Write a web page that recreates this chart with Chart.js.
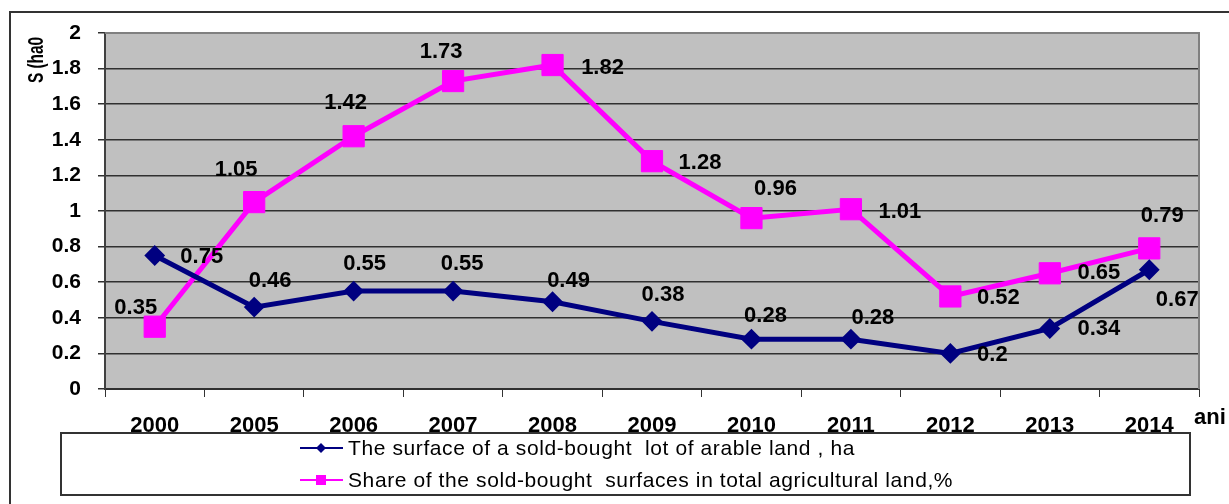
<!DOCTYPE html>
<html>
<head>
<meta charset="utf-8">
<title>Sold-bought land</title>
<script src="https://cdn.jsdelivr.net/npm/chart.js@4.4.0/dist/chart.umd.min.js"></script>
<style>
    html, body { margin: 0; padding: 0; background: #ffffff; }
    #wrap { width: 1229px; height: 504px; position: relative; }
</style>
</head>
<body>
<div id="wrap"><canvas id="landChart"></canvas></div>
<script>
// ---- data ----
const years = ["2000", "2005", "2006", "2007", "2008", "2009", "2010", "2011", "2012", "2013", "2014"];
const lotSurface = [0.75, 0.46, 0.55, 0.55, 0.49, 0.38, 0.28, 0.28, 0.2, 0.34, 0.67];
const soldShare = [0.35, 1.05, 1.42, 1.73, 1.82, 1.28, 0.96, 1.01, 0.52, 0.65, 0.79];
const yTicks = [0, 0.2, 0.4, 0.6, 0.8, 1, 1.2, 1.4, 1.6, 1.8, 2];

const lotName = "The surface of a sold-bought  lot of arable land , ha";
const shareName = "Share of the sold-bought  surfaces in total agricultural land,%";
const yTitle = "S (ha0";
const xTitle = "ani";

// where each value label sits, px from its point (hand placed in the original)
const lotLabelPos = [[47, 1], [16, -26], [11, -27], [9, -27], [16, -21], [11, -26], [14, -23], [22, -21], [42, 2], [49, 0], [28, 30]];
const shareLabelPos = [[-19, -19], [-18, -32], [-8, -33], [-12, -29], [50, 3], [48, 2], [24, -29], [49, 3], [48, 1], [49, 0], [13, -32]];

const NAVY = "#000080";
const MAGENTA = "#ff00ff";
const FONT = "'Liberation Sans', Arial, sans-serif";

// gray plot background
const plotBg = {
    id: "plotBg",
    beforeDraw(chart) {
        const { ctx, chartArea: a } = chart;
        ctx.save();
        ctx.fillStyle = "#c0c0c0";
        ctx.fillRect(a.left, a.top, a.right - a.left, a.bottom - a.top);
        ctx.restore();
    }
};

// value labels next to the points
const valueLabels = {
    id: "valueLabels",
    afterDatasetsDraw(chart) {
        const ctx = chart.ctx;
        const offsets = [lotLabelPos, shareLabelPos];
        ctx.save();
        ctx.font = "bold 22px " + FONT;
        ctx.fillStyle = "#000";
        ctx.textAlign = "center";
        ctx.textBaseline = "middle";
        chart.data.datasets.forEach((ds, di) => {
            const meta = chart.getDatasetMeta(di);
            meta.data.forEach((pt, i) => {
                const off = offsets[di][i];
                ctx.fillText(String(ds.data[i]), pt.x + off[0], pt.y + off[1]);
            });
        });
        ctx.restore();
    }
};

// frame, axis titles and the boxed legend
const extras = {
    id: "extras",
    afterDraw(chart) {
        const { ctx, chartArea: a } = chart;
        ctx.save();

        // outer chart frame (only top and left show)
        ctx.strokeStyle = "#333";
        ctx.lineWidth = 2;
        ctx.beginPath();
        ctx.moveTo(10, 504);
        ctx.lineTo(10, 12);
        ctx.lineTo(1229, 12);
        ctx.stroke();

        // plot area top/right edge
        ctx.strokeStyle = "#808080";
        ctx.lineWidth = 2;
        ctx.beginPath();
        ctx.moveTo(a.left, a.top);
        ctx.lineTo(a.right, a.top);
        ctx.lineTo(a.right, a.bottom);
        ctx.stroke();

        // axis titles
        ctx.fillStyle = "#000";
        ctx.font = "bold 22px " + FONT;
        ctx.textAlign = "center";
        ctx.textBaseline = "middle";
        ctx.save();
        ctx.translate(37, 60);
        ctx.rotate(-Math.PI / 2);
        ctx.scale(0.7, 1); // title is squeezed along its length in the original
        ctx.fillText(yTitle, 0, 0);
        ctx.restore();

        ctx.textAlign = "left";
        ctx.fillText(xTitle, 1194, 418);

        // legend box
        ctx.fillStyle = "#ffffff";
        ctx.fillRect(61, 433, 1129, 62);
        ctx.strokeStyle = "#333";
        ctx.lineWidth = 2;
        ctx.strokeRect(61, 433, 1129, 62);

        const rows = [
            { text: lotName, color: NAVY, y: 448, marker: "diamond" },
            { text: shareName, color: MAGENTA, y: 480, marker: "square" }
        ];
        rows.forEach(r => {
            ctx.strokeStyle = r.color;
            ctx.fillStyle = r.color;
            ctx.lineWidth = 2;
            ctx.beginPath();
            ctx.moveTo(300, r.y);
            ctx.lineTo(343, r.y);
            ctx.stroke();
            ctx.beginPath();
            if (r.marker === "diamond") {
                ctx.moveTo(321, r.y - 5);
                ctx.lineTo(326, r.y);
                ctx.lineTo(321, r.y + 5);
                ctx.lineTo(316, r.y);
                ctx.closePath();
            } else {
                ctx.rect(316, r.y - 5, 10, 10);
            }
            ctx.fill();

            ctx.fillStyle = "#000";
            ctx.font = "21px " + FONT;
            ctx.letterSpacing = "0.6px";
            ctx.textAlign = "left";
            ctx.textBaseline = "middle";
            ctx.fillText(r.text, 348, r.y + 1);
            ctx.letterSpacing = "0px";
        });

        ctx.restore();
    }
};

window.addEventListener("load", () => {
    const ctx = document.getElementById("landChart").getContext("2d");

    new Chart(ctx, {
        type: "line",
        data: {
            labels: years,
            datasets: [
                {
                    label: lotName,
                    data: lotSurface,
                    borderColor: NAVY,
                    backgroundColor: NAVY,
                    borderWidth: 5,
                    tension: 0,
                    pointStyle: "rectRot",
                    pointRadius: 9,
                    pointBorderWidth: 2
                },
                {
                    label: shareName,
                    data: soldShare,
                    borderColor: MAGENTA,
                    backgroundColor: MAGENTA,
                    borderWidth: 5,
                    tension: 0,
                    pointStyle: "rect",
                    pointRadius: 15,
                    pointBorderWidth: 1
                }
            ]
        },
        options: {
            responsive: true,
            maintainAspectRatio: false,
            animation: false,
            layout: { padding: { top: 33, right: 30, left: 0, bottom: 0 } },
            plugins: {
                legend: { display: false },
                tooltip: { enabled: false }
            },
            scales: {
                x: {
                    offset: true,
                    grid: {
                        offset: true,
                        drawOnChartArea: false,
                        drawTicks: true,
                        tickLength: 8,
                        color: "#333"
                    },
                    border: { display: true, color: "#303030", width: 2 },
                    ticks: {
                        color: "#000",
                        padding: 16,
                        maxRotation: 0,
                        autoSkip: false,
                        font: { family: FONT, size: 22, weight: "bold" }
                    },
                    afterFit: s => { s.height = 115; }
                },
                y: {
                    min: 0,
                    max: 2,
                    afterBuildTicks: s => { s.ticks = yTicks.map(v => ({ value: v })); },
                    grid: {
                        color: "#303030",
                        lineWidth: 1.5,
                        drawTicks: true,
                        tickLength: 7
                    },
                    border: { display: true, color: "#404040", width: 2 },
                    ticks: {
                        color: "#000",
                        padding: 17,
                        callback: v => String(v),
                        font: { family: FONT, size: 21, weight: "bold" }
                    },
                    afterFit: s => { s.width = 105; }
                }
            }
        },
        plugins: [plotBg, valueLabels, extras]
    });
});
</script>
</body>
</html>
